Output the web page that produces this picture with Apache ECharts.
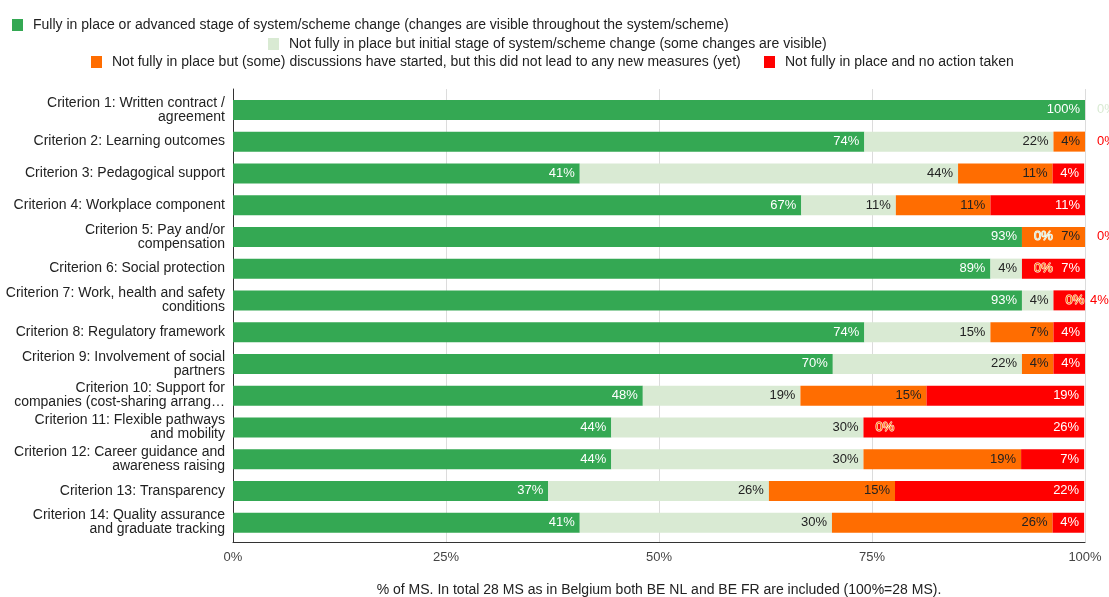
<!DOCTYPE html>
<html>
<head>
<meta charset="utf-8">
<script src="https://cdn.jsdelivr.net/npm/echarts@6/dist/echarts.min.js"></script>
<style>
html,body{margin:0;padding:0;background:#fff;}
#chart{width:1109px;height:597px;}
</style>
</head>
<body>
<div id="chart"></div>
<script>
const categories = [
  "Criterion 1: Written contract /\nagreement",
  "Criterion 2: Learning outcomes",
  "Criterion 3: Pedagogical support",
  "Criterion 4: Workplace component",
  "Criterion 5: Pay and/or\ncompensation",
  "Criterion 6: Social protection",
  "Criterion 7: Work, health and safety\nconditions",
  "Criterion 8: Regulatory framework",
  "Criterion 9: Involvement of social\npartners",
  "Criterion 10: Support for\ncompanies (cost-sharing arrang…",
  "Criterion 11: Flexible pathways\nand mobility",
  "Criterion 12: Career guidance and\nawareness raising",
  "Criterion 13: Transparency",
  "Criterion 14: Quality assurance\nand graduate tracking"
];
const seriesNames = [
  "Fully in place or advanced stage of system/scheme change (changes are visible throughout the system/scheme)",
  "Not fully in place but initial stage of system/scheme change (some changes are visible)",
  "Not fully in place but (some) discussions have started, but this did not lead to any new measures (yet)",
  "Not fully in place and no action taken"
];
const fullyInPlace       = [100, 74.1, 40.7, 66.7, 92.6, 88.9, 92.6, 74.1, 70.4, 48.1, 44.4, 44.4, 37.0, 40.7];
const initialStage       = [0, 22.2, 44.4, 11.1, 0, 3.7, 3.7, 14.8, 22.2, 18.5, 29.6, 29.6, 25.9, 29.6];
const discussionsStarted = [0, 3.7, 11.1, 11.1, 7.4, 0, 0, 7.4, 3.7, 14.8, 0, 18.5, 14.8, 25.9];
const noAction           = [0, 0, 3.7, 11.1, 0, 7.4, 3.7, 3.7, 3.7, 18.5, 25.9, 7.4, 22.2, 3.7];
const xTicks = [0, 25, 50, 75, 100];

const colors = ['#34a853', '#d9ead3', '#ff6d01', '#ff0000'];
const insideText = ['#ffffff', '#222222', '#222222', '#ffffff'];
const allValues = [fullyInPlace, initialStage, discussionsStarted, noAction];

// Build data items with label rules
const shownZeroPos = categories.map(() => []);
const seriesData = allValues.map(() => []);
categories.forEach((c, i) => {
  let cum = 0;
  allValues.forEach((arr, s) => {
    const v = arr[i];
    const start = cum;
    const item = { value: v };
    if (v === 0) {
      const dup = shownZeroPos[i].some(p => Math.abs(p - start) < 0.5);
      if (dup) {
        item.label = { show: false };
      } else {
        shownZeroPos[i].push(start);
        item.label = { show: true, position: 'right', distance: 12, color: colors[s],
                       textBorderColor: '#fff', textBorderWidth: 1 };
      }
    } else {
      const blocked = shownZeroPos[i].some(p => Math.abs(p - start) < 0.5) && v < 5;
      if (blocked) {
        item.label = { show: true, position: 'right', distance: 5, color: colors[s],
                       textBorderColor: '#fff', textBorderWidth: 1 };
      }
    }
    seriesData[s].push(item);
    cum += v;
  });
});

const FONT = '"Liberation Sans", Arial, sans-serif';

const series = seriesNames.map((name, s) => ({
  name: name,
  type: 'bar',
  stack: 'total',
  xAxisIndex: 1,
  yAxisIndex: 1,
  barWidth: 20,
  itemStyle: { color: colors[s] },
  label: {
    show: true,
    position: 'insideRight',
    distance: 5,
    color: insideText[s],
    fontSize: 13,
    fontFamily: FONT,
    formatter: p => Math.round(p.value) + '%'
  },
  labelLayout: { hideOverlap: false },
  data: seriesData[s]
}));

const legendBase = {
  itemWidth: 11, itemHeight: 12, icon: 'rect',
  selectedMode: false,
  textStyle: { fontSize: 14, color: '#222', fontFamily: FONT, padding: [0, 0, 0, 5] }
};

const option = {
  animation: false,
  backgroundColor: '#fff',
  color: colors,
  legend: [
    Object.assign({}, legendBase, { data: [seriesNames[0]], left: 7, top: 13 }),
    Object.assign({}, legendBase, { data: [seriesNames[1]], left: 263, top: 32 }),
    Object.assign({}, legendBase, { data: [seriesNames[2]], left: 86, top: 50 }),
    Object.assign({}, legendBase, { data: [seriesNames[3]], left: 759, top: 50 })
  ],
  grid: [
    { left: 233, right: 24, top: 89, bottom: 54.5, containLabel: false, outerBoundsMode: 'none' },
    { left: 233, right: 24, top: 94, height: 444.5, containLabel: false, outerBoundsMode: 'none' }
  ],
  xAxis: [
    {
      gridIndex: 0, type: 'value', min: xTicks[0], max: xTicks[xTicks.length - 1], interval: 25,
      axisLine: { show: true, lineStyle: { color: '#333', width: 1 } },
      axisTick: { show: false },
      splitLine: { show: true, lineStyle: { color: '#dcdcdc', width: 1 } },
      axisLabel: { color: '#444', fontSize: 13, fontFamily: FONT, margin: 8,
                   formatter: v => xTicks.includes(v) ? v + '%' : '' },
      name: '% of MS. In total 28 MS as in Belgium both BE NL and BE FR are included (100%=28 MS).',
      nameLocation: 'middle', nameGap: 41,
      nameTextStyle: { color: '#222', fontSize: 14, fontFamily: FONT }
    },
    { gridIndex: 1, type: 'value', min: 0, max: 100, show: false }
  ],
  yAxis: [
    {
      gridIndex: 0, type: 'value', min: 0, max: 1,
      axisLine: { show: true, lineStyle: { color: '#333', width: 1 } },
      axisTick: { show: false }, axisLabel: { show: false }, splitLine: { show: false }
    },
    {
      gridIndex: 1, type: 'category', inverse: true, data: categories,
      axisLine: { show: false }, axisTick: { show: false }, splitLine: { show: false },
      axisLabel: { color: '#222', fontSize: 14, fontFamily: FONT, margin: 8, lineHeight: 14, align: 'right' }
    }
  ],
  series: series
};

const chart = echarts.init(document.getElementById('chart'), null, { renderer: 'canvas' });
chart.setOption(option);
</script>
</body>
</html>
